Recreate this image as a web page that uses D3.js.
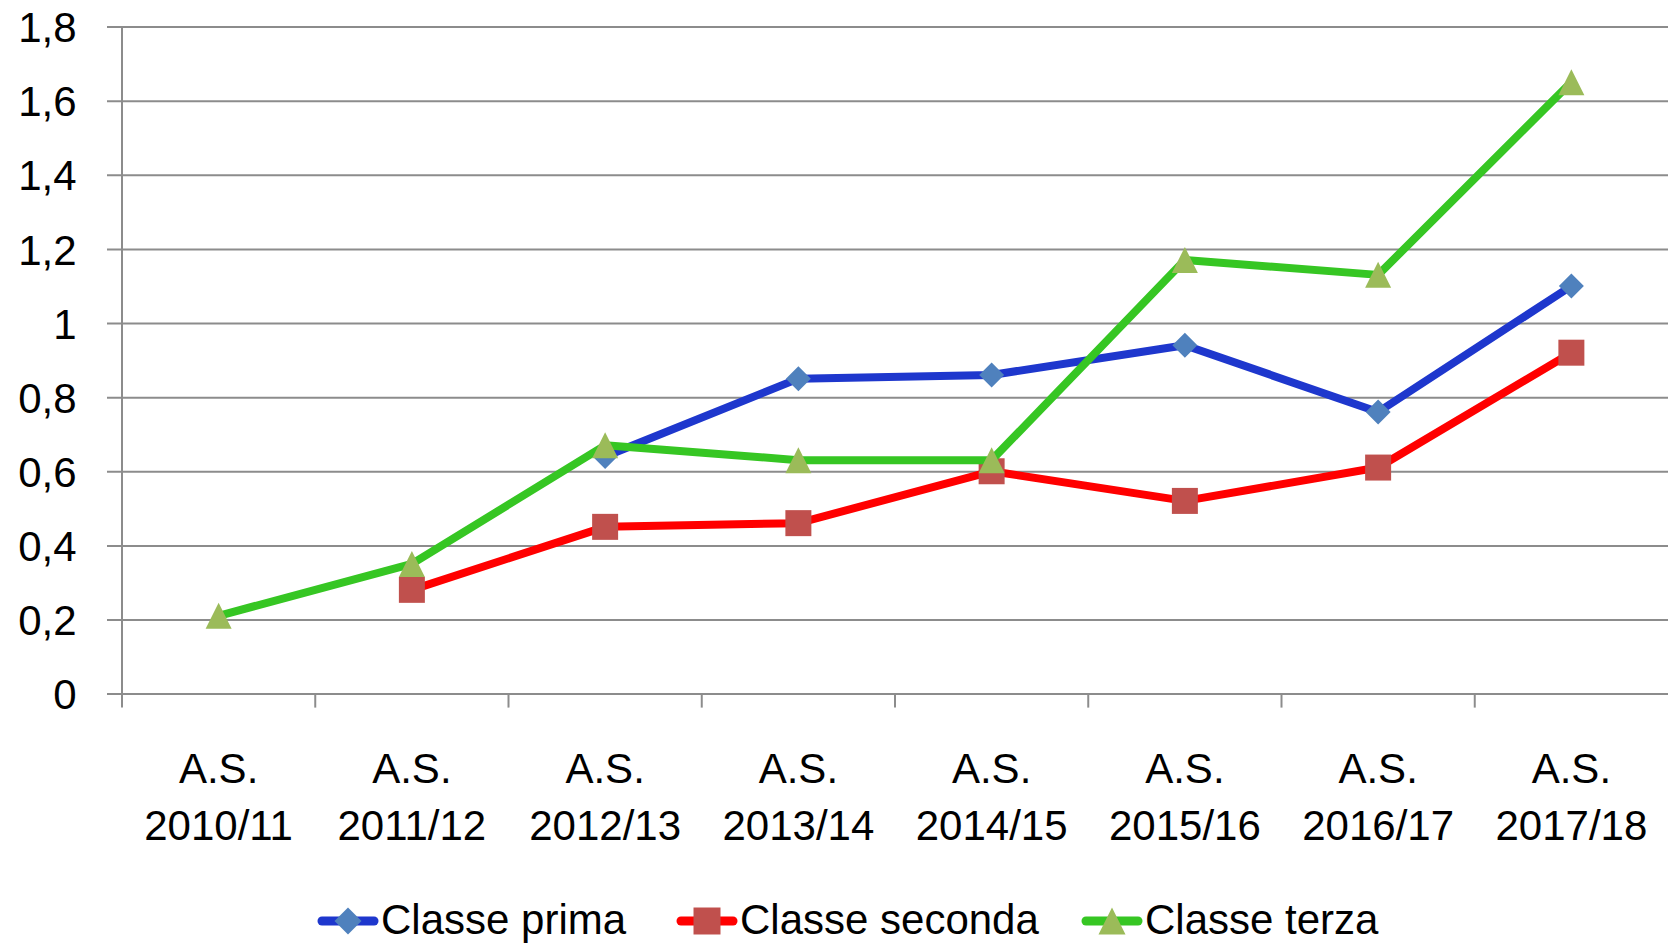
<!DOCTYPE html>
<html>
<head>
<meta charset="utf-8">
<script src="https://cdn.jsdelivr.net/npm/d3@7"></script>
<style>
  html, body { margin: 0; padding: 0; background: #ffffff; }
  svg { display: block; }
</style>
</head>
<body>
<script>
// ---- data ----
const categories = ["A.S.\n2010/11", "A.S.\n2011/12", "A.S.\n2012/13", "A.S.\n2013/14",
                    "A.S.\n2014/15", "A.S.\n2015/16", "A.S.\n2016/17", "A.S.\n2017/18"];
const classePrima   = [null, null, 0.64, 0.85, 0.86, 0.94, 0.76, 1.10];
const classeSeconda = [null, 0.28, 0.45, 0.46, 0.60, 0.52, 0.61, 0.92];
const classeTerza   = [0.21, 0.35, 0.67, 0.63, 0.63, 1.17, 1.13, 1.65];
const yTicks = [0, 0.2, 0.4, 0.6, 0.8, 1.0, 1.2, 1.4, 1.6, 1.8];
const seriesNames = ["Classe prima", "Classe seconda", "Classe terza"];

(function () {
const W = 1668, H = 943;
const pLeft = 122, pRight = 1668, pTop = 26.6, pBottom = 693.6;
const font = "'Liberation Sans', Arial, sans-serif";
const fontSize = 42;
const gridColor = "#8c8c8c";

const series = [
  { name: seriesNames[0], values: classePrima,   line: "#1e37cd", marker: "#4f81bd", shape: "diamond" },
  { name: seriesNames[1], values: classeSeconda, line: "#ff0000", marker: "#c0504d", shape: "square" },
  { name: seriesNames[2], values: classeTerza,   line: "#36c623", marker: "#9bbb59", shape: "triangle" }
];

const svg = d3.select("body").append("svg").attr("width", W).attr("height", H);

const x = d3.scaleBand().domain(categories).range([pLeft, pRight]).paddingInner(0).paddingOuter(0);
const y = d3.scaleLinear().domain([0, 1.8]).range([pBottom, pTop]);

// gridlines + y labels
const yAxis = d3.axisLeft(y).tickValues(yTicks)
  .tickSize(0).tickPadding(0)
  .tickFormat(d => d3.format(".1~f")(d).replace(".", ","));
const gY = svg.append("g").attr("transform", `translate(${pLeft - 15},0)`).call(yAxis);
gY.select(".domain").remove();
gY.selectAll(".tick line").attr("stroke", gridColor).attr("stroke-width", 2)
  .attr("x1", 0).attr("x2", pRight - pLeft + 15);
gY.selectAll(".tick text").attr("font-family", font).attr("font-size", fontSize)
  .attr("fill", "#000").attr("x", 76.6 - (pLeft - 15)).attr("text-anchor", "end").attr("dy", "0.36em");

// vertical axis line
svg.append("line").attr("x1", pLeft).attr("x2", pLeft).attr("y1", y(1.8)).attr("y2", y(0))
  .attr("stroke", gridColor).attr("stroke-width", 2);

// x ticks at category boundaries
const boundaries = categories.map(c => x(c));
svg.append("g").selectAll("line").data(boundaries).join("line")
  .attr("x1", d => d).attr("x2", d => d)
  .attr("y1", y(0)).attr("y2", y(0) + 14)
  .attr("stroke", gridColor).attr("stroke-width", 2);

// x labels
const xl = svg.append("g").selectAll("text").data(categories).join("text")
  .attr("text-anchor", "middle")
  .attr("font-family", font).attr("font-size", fontSize).attr("fill", "#000");
xl.each(function (d) {
  const t = d3.select(this);
  d.split("\n").forEach((p, i) => {
    t.append("tspan").attr("x", x(d) + x.bandwidth() / 2).attr("y", 783 + i * 57).text(p);
  });
});

// marker path
function markerPath(shape, s) {
  const h = s / 2;
  if (shape === "diamond") return `M0,${-h}L${h},0L0,${h}L${-h},0Z`;
  if (shape === "square") return `M${-h},${-h}H${h}V${h}H${-h}Z`;
  return `M0,${-h}L${h},${h}L${-h},${h}Z`;
}

// lines + markers
const lineGen = d3.line()
  .defined(d => d.v !== null)
  .x(d => x(d.c) + x.bandwidth() / 2)
  .y(d => y(d.v));

series.forEach(s => {
  const pts = categories.map((c, i) => ({ c, v: s.values[i] }));
  const g = svg.append("g");
  g.append("path").datum(pts).attr("d", lineGen)
    .attr("fill", "none").attr("stroke", s.line).attr("stroke-width", 8)
    .attr("stroke-linejoin", "round").attr("stroke-linecap", "round");
  g.selectAll("path.m").data(pts.filter(d => d.v !== null)).join("path")
    .attr("class", "m")
    .attr("transform", d => `translate(${x(d.c) + x.bandwidth() / 2},${y(d.v)})`)
    .attr("d", markerPath(s.shape, s.shape === "diamond" ? 25 : 26))
    .attr("fill", s.marker);
});

// legend
const legendX = [318, 677, 1082];
const legendY = 921;
const lg = svg.append("g").selectAll("g").data(series).join("g")
  .attr("transform", (d, i) => `translate(${legendX[i]},${legendY})`);
lg.append("line").attr("x1", 4).attr("x2", 56).attr("y1", 0).attr("y2", 0)
  .attr("stroke", d => d.line).attr("stroke-width", 9).attr("stroke-linecap", "round");
lg.append("path").attr("transform", "translate(30,0)")
  .attr("d", d => markerPath(d.shape, 27)).attr("fill", d => d.marker);
lg.append("text").attr("x", 63).attr("y", 13)
  .attr("font-family", font).attr("font-size", fontSize).attr("fill", "#000")
  .text(d => d.name);
})();
</script>
</body>
</html>
